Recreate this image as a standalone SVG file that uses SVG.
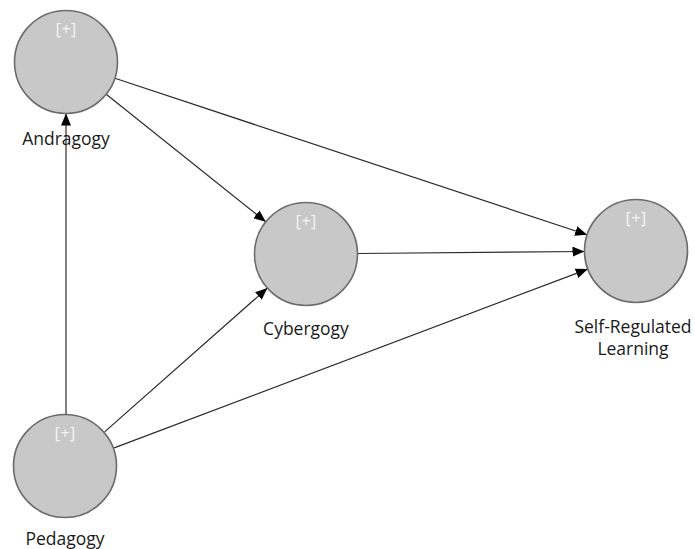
<svg xmlns="http://www.w3.org/2000/svg" width="695" height="549" viewBox="0 0 695 549">
  <style>
    .node circle { fill: #c8c8c8; stroke: #6b6b6b; stroke-width: 1.6; }
    .plus { font-family: "Open Sans", "Liberation Sans", sans-serif; font-size: 17px; fill: #f4f4f4; text-anchor: middle; }
    .label { font-family: "Open Sans", "Liberation Sans", sans-serif; font-size: 17.5px; fill: #1a1a1a; text-anchor: middle; }
    .edge { stroke: #2a2a2a; stroke-width: 1.2; fill: none; marker-end: url(#arrow); }
  </style>
  <defs>
    <marker id="arrow" markerUnits="userSpaceOnUse" markerWidth="12" markerHeight="10" viewBox="0 0 12 10" refX="12" refY="5" orient="auto">
      <path d="M0,0 L12,5 L0,10 Z" fill="#000"/>
    </marker>
  </defs>

  <g id="connectors">
    <line class="edge" x1="66" y1="414.5" x2="66" y2="113.5"/>
    <line class="edge" x1="106.2" y1="94.2" x2="265.8" y2="221.8"/>
    <line class="edge" x1="114.9" y1="78.2" x2="587.1" y2="234.8"/>
    <line class="edge" x1="357.5" y1="253.5" x2="584.5" y2="251.5"/>
    <line class="edge" x1="104.6" y1="431.9" x2="267.4" y2="288.1"/>
    <line class="edge" x1="114.2" y1="447.9" x2="587.8" y2="269.1"/>
  </g>

  <g id="andragogy" class="node">
    <circle cx="66" cy="62" r="51.5"/>
    <text class="plus" x="66" y="35">[+]</text>
    <text class="label" x="66" y="145">Andragogy</text>
  </g>

  <g id="cybergogy" class="node">
    <circle cx="306" cy="254" r="51.5"/>
    <text class="plus" x="306" y="227">[+]</text>
    <text class="label" x="306" y="335">Cybergogy</text>
  </g>

  <g id="self-regulated-learning" class="node">
    <circle cx="636" cy="251" r="51.5"/>
    <text class="plus" x="636" y="224">[+]</text>
    <text class="label" x="633" y="333">Self-Regulated</text>
    <text class="label" x="633" y="355">Learning</text>
  </g>

  <g id="pedagogy" class="node">
    <circle cx="65" cy="466" r="51.5"/>
    <text class="plus" x="65" y="439">[+]</text>
    <text class="label" x="65" y="545">Pedagogy</text>
  </g>
</svg>
